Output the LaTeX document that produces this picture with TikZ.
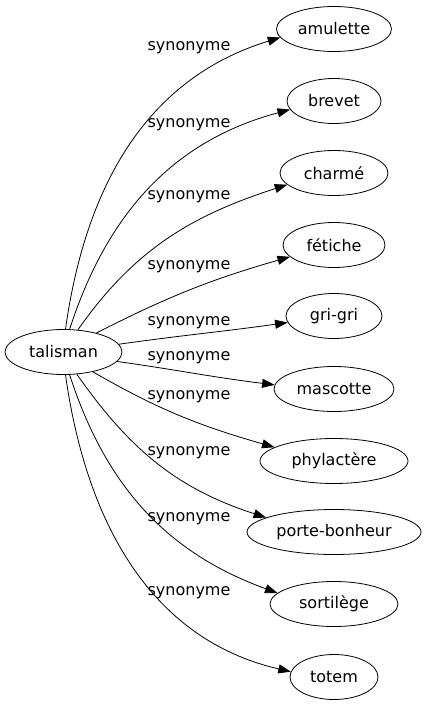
\documentclass[tikz,border=0pt]{standalone}
\usepackage{fontspec}
\setmainfont{DejaVu Sans}
\usetikzlibrary{arrows.meta,shapes.geometric}

\tikzset{
  mot/.style={draw, ellipse, line width=0.8pt, minimum height=45pt, inner sep=0pt,
    font=\fontsize{16}{19}\selectfont},
  lien/.style={line width=0.8pt, -{Triangle[length=12.5pt,width=9pt]}},
  etiq/.style={inner sep=0pt, font=\fontsize{16}{19}\selectfont}
}

\begin{document}
\begin{tikzpicture}[x=1pt, y=1pt]
    \useasboundingbox (0,0) rectangle (427,-707);

    % Nodo central
    \node[mot, minimum width=117pt] (talisman) at (63.5,-352) {talisman};

    % Sinónimos: nombre/texto/y/ancho/ancla salida/salida/ancla llegada/llegada/y etiqueta
    \foreach \n/\t/\y/\w/\a/\o/\b/\i/\ly in {
        amulette/amulette/29/115/85/82/189/197/48,
        brevet/brevet/101/94/75/72/191/195/125,
        charme/charmé/173/108/57/55/194/198/197,
        fetiche/fétiche/245/102/30/27/195/196/267,
        grigri/gri-gri/316/96/8/8/188/188/323,
        mascotte/mascotte/389/120/-10/-8/176/173/358,
        phylactere/phylactère/461/148/-34/-30/167/164/397,
        portebonheur/porte-bonheur/532/174/-59/-55/168/162/453,
        sortilege/sortilège/604/128/-75/-72/169/160/519,
        totem/totem/677/88/-85/-82/173/167/593}{
        \node[mot, minimum width=\w pt] (\n) at (334,-\y) {\t};
        \draw[lien] (talisman.\a) to[out=\o, in=\i] (\n.\b);
        \node[etiq] (lab-\n) at (189,-\ly) {synonyme};
    }
\end{tikzpicture}
\end{document}
